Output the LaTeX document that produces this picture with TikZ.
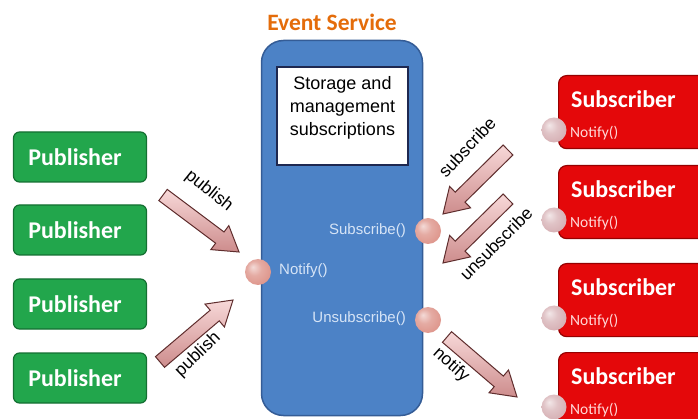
\documentclass[tikz,border=0pt]{standalone}
\usepackage{fontspec}
\setmainfont{Liberation Sans}
\newfontfamily\calfont{Carlito}
\newfontfamily\arfont{Liberation Sans}
\usetikzlibrary{calc,shadings}
\definecolor{esblue}{RGB}{76,130,198}
\definecolor{esblueedge}{RGB}{52,92,150}
\definecolor{esorange}{RGB}{228,108,10}
\definecolor{pubgreen}{RGB}{34,166,76}
\definecolor{pubedge}{RGB}{20,112,50}
\definecolor{subred}{RGB}{228,8,10}
\definecolor{subedge}{RGB}{150,0,0}
\definecolor{arrlight}{RGB}{247,216,216}
\definecolor{arrdark}{RGB}{205,140,140}
\definecolor{arredge}{RGB}{95,45,45}
\definecolor{methodtxt}{RGB}{214,228,246}
\definecolor{navy}{RGB}{30,40,80}
\definecolor{ballpink}{RGB}{222,150,140}
\definecolor{ballgrey}{RGB}{214,176,180}
\definecolor{notifytxt}{RGB}{255,215,215}
\pgfdeclareradialshading{esballshade}{\pgfpoint{-10bp}{10bp}}{%
  color(0bp)=(white!65!ballpink); color(14bp)=(white!20!ballpink); color(30bp)=(ballpink);
  color(42bp)=(ballpink!85!black); color(50bp)=(ballpink!80!black)}
\pgfdeclareradialshading{subballshade}{\pgfpoint{-10bp}{10bp}}{%
  color(0bp)=(white!70!ballgrey); color(14bp)=(white!25!ballgrey); color(30bp)=(ballgrey);
  color(42bp)=(ballgrey!88!black); color(50bp)=(ballgrey!82!black)}
\tikzset{
  pubbox/.style={draw=pubedge, line width=1.2pt, fill=pubgreen, rounded corners=6pt,
    minimum width=133pt, minimum height=50pt, inner sep=0pt},
  pubtxt/.style={inner sep=0pt, text=white, font=\calfont\bfseries\fontsize{24}{26}\selectfont},
  subbox/.style={draw=subedge, line width=1.2pt, fill=subred, rounded corners=8pt,
    minimum width=152pt, minimum height=73pt, anchor=north west, inner sep=0pt},
  subtitle/.style={anchor=west, inner sep=0pt, text=white, font=\calfont\bfseries\fontsize{24}{26}\selectfont},
  subnotify/.style={anchor=west, inner sep=0pt, text=notifytxt, font=\calfont\fontsize{15.5}{17}\selectfont},
  method/.style={inner sep=0pt, text=methodtxt, font=\arfont\fontsize{15}{17}\selectfont},
  esball/.style={circle, minimum size=26pt, inner sep=0pt, shading=esballshade},
  subball/.style={circle, minimum size=25pt, inner sep=0pt, shading=subballshade},
  arrlabel/.style={inner sep=0pt, text=black, font=\arfont\fontsize{17.5}{19}\selectfont},
  blockarrow/.style={draw=arredge, line width=1pt, top color=arrlight, bottom color=arrdark, line join=miter}
}
\newcommand{\blockarr}[2]{%
  \path[blockarrow]
    ($(#1)!7pt!90:(#2)$) --
    ($($(#2)!24pt!(#1)$)!7pt!90:(#2)$) --
    ($($(#2)!24pt!(#1)$)!15pt!90:(#2)$) --
    (#2) --
    ($($(#2)!24pt!(#1)$)!15pt!-90:(#2)$) --
    ($($(#2)!24pt!(#1)$)!7pt!-90:(#2)$) --
    ($(#1)!7pt!-90:(#2)$) -- cycle;}
\begin{document}
\begin{tikzpicture}[x=1pt,y=-1pt]
\useasboundingbox[fill=white] (0,0) rectangle (698,419);

% Event Service
\node[font=\calfont\bfseries\fontsize{23.5}{25}\selectfont, text=esorange, inner sep=0pt] (estitle) at (332,22) {Event Service};
\node[draw=esblueedge, line width=1.5pt, fill=esblue, rounded corners=22pt,
      minimum width=161pt, minimum height=375pt, inner sep=0pt] (es) at (342,228) {};
\node[draw=navy, fill=white, line width=1.5pt, minimum width=131pt, minimum height=98pt, inner sep=0pt] (store) at (342.5,116) {};
\node[align=center, inner sep=0pt, font=\arfont\fontsize{18}{23}\selectfont] (storetxt) at (342.5,108)
  {Storage and\\management\\subscriptions};

\node[method, anchor=east] (msub) at (406,231) {Subscribe()};
\node[method, anchor=west] (mnot) at (279,271) {Notify()};
\node[method, anchor=east] (munsub) at (406,319) {Unsubscribe()};

\node[esball] (bsub) at (428,231) {};
\node[esball] (bnot) at (258,272) {};
\node[esball] (bunsub) at (428,320) {};

% Publishers
\foreach \i/\y in {1/157,2/230,3/304,4/378}{
  \node[pubbox] (p\i) at (80,\y) {};
  \node[pubtxt] (p\i t) at (75,\y) {Publisher};
}

% Subscribers
\foreach \i/\t in {1/75,2/165,3/263,4/352}{
  \node[subbox] (s\i) at (558,\t) {};
  \node[subtitle] (s\i t) at (571,\t+24) {Subscriber};
  \node[subnotify] (s\i n) at (570,\t+58) {Notify()};
  \node[subball] (s\i b) at (554,\t+55) {};
}

% Arrows
\coordinate (a1tail) at (163,195); \coordinate (a1tip) at (239,252);
\coordinate (a2tail) at (160,362); \coordinate (a2tip) at (233,300);
\coordinate (a3tail) at (508,150); \coordinate (a3tip) at (443,214);
\coordinate (a4tail) at (508,199); \coordinate (a4tip) at (443,263);
\coordinate (a5tail) at (447,337); \coordinate (a5tip) at (517,397);
\blockarr{a1tail}{a1tip}
\blockarr{a2tail}{a2tip}
\blockarr{a3tail}{a3tip}
\blockarr{a4tail}{a4tip}
\blockarr{a5tail}{a5tip}

\node[arrlabel, rotate=-39] (l1) at (209,191) {publish};
\node[arrlabel, rotate=44] (l2) at (198,355) {publish};
\node[arrlabel, rotate=47] (l3) at (467,147) {subscribe};
\node[arrlabel, rotate=45] (l4) at (496,244) {unsubscribe};
\node[arrlabel, rotate=-42] (l5) at (451,365) {notify};
\end{tikzpicture}
\end{document}
